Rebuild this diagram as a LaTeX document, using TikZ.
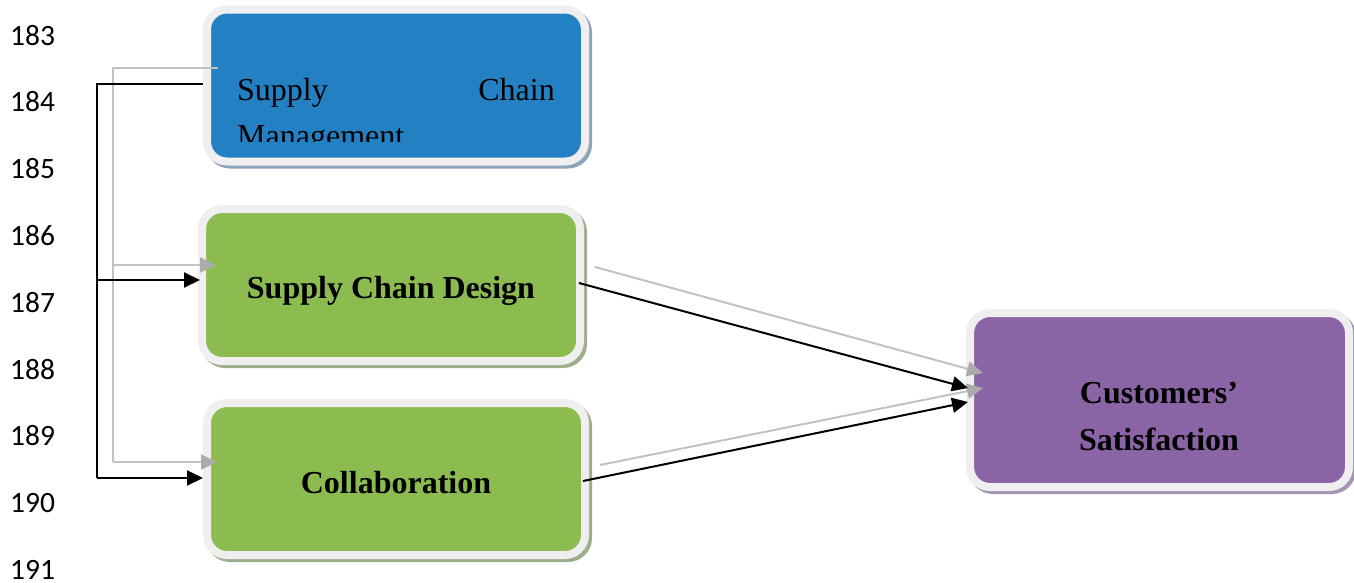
\documentclass[tikz,border=0pt]{standalone}
\usepackage{fontspec}
\setmainfont{Liberation Serif}
\newfontfamily\numfont{Carlito}
\usetikzlibrary{arrows.meta,calc}

\definecolor{cardedge}{HTML}{EFEFEF}
\definecolor{scmblue}{HTML}{2380C2}
\definecolor{scmshade}{HTML}{8DA3BA}
\definecolor{leafgreen}{HTML}{8CBB50}
\definecolor{greenshade}{HTML}{9DAE8B}
\definecolor{plum}{HTML}{8A64A4}
\definecolor{plumshade}{HTML}{A595B3}
\definecolor{ghostline}{HTML}{C2C2C2}
\definecolor{ghosttip}{HTML}{ABABAB}

\tikzset{
  card/.style n args={2}{rounded corners=20pt, draw=cardedge, line width=8pt,
    fill=#1, minimum width=378pt, minimum height=152pt, inner sep=0pt,
    align=center, font=\bfseries\fontsize{32}{46}\selectfont,
    preaction={draw=#2, fill=#2, line width=8pt,
      transform canvas={shift={(3pt,-3pt)}}}},
  linenum/.style={anchor=base west, font=\numfont\fontsize{29.5}{34}\selectfont, inner sep=0pt},
  plain/.style={font=\fontsize{32}{46}\selectfont, inner sep=0pt},
  link/.style={line width=2pt, black},
  linkarrow/.style={link, -{Triangle[length=16pt,width=15pt]}},
  ghost/.style={line width=2pt, ghostline},
  ghostarrow/.style={ghost, -{Triangle[length=16pt,width=15pt,color=ghosttip]}},
}

\begin{document}
\begin{tikzpicture}[x=1pt, y=-1pt]
\useasboundingbox (0,0) rectangle (1354,582);

% line numbers in the margin
\foreach \n [count=\i from 0] in {183,...,191}
  \node[linenum] (ln\n) at (10,45+66.8*\i) {\n};

% boxes
\node[card={scmblue}{scmshade}] (scm) at (396,85.5) {};
\node[card={leafgreen}{greenshade}] (design) at (391,285) {};
\node[card={leafgreen}{greenshade}] (collab) at (396,479) {};
\node[card={plum}{plumshade}, minimum width=379pt, minimum height=174pt] (cs) at (1159.5,400) {};

% box texts
\begin{scope}
  \clip (211,14) rectangle (581,141.5);
  \node[plain, anchor=base west] (scmA) at (237,100) {Supply};
  \node[plain, anchor=base east] (scmB) at (555,100) {Chain};
  \node[plain, anchor=base west] (scmC) at (237,146) {Management};
\end{scope}
\node[plain, font=\bfseries\fontsize{32}{47}\selectfont, anchor=base] (designT) at (391,298) {Supply Chain Design};
\node[plain, font=\bfseries\fontsize{32}{47}\selectfont, anchor=base] (collabT) at (396,493) {Collaboration};
\node[plain, font=\bfseries\fontsize{32}{47}\selectfont, anchor=base, align=center] (csT) at (1159,450)
  {Customers’\\Satisfaction};

% light offset copies of the connectors
\coordinate (gstart) at ($(scm.west)+(15pt,17.5pt)$);
\coordinate (gcorner) at (113,68);
\coordinate (gsplit) at (113,265);
\coordinate (gfoot) at (113,462);
\draw[ghost] (gstart) -- (gcorner) -- (gfoot);
\draw[ghostarrow] (gsplit) -- ($(design.west)+(18pt,20pt)$);
\draw[ghostarrow] (gfoot) -- ($(collab.west)+(14pt,17pt)$);
\draw[ghostarrow] ($(design.east)+(11pt,18pt)$) -- ($(cs.west)+(17pt,27pt)$);
\draw[ghostarrow] ($(collab.east)+(11pt,14pt)$) -- ($(cs.west)+(17pt,12pt)$);

% connectors
\coordinate (bcorner) at (97,84);
\coordinate (bsplit) at (97,280);
\coordinate (bfoot) at (97,478);
\draw[link] (scm.west |- bcorner) -- (bcorner) -- (bfoot);
\draw[linkarrow] (bsplit) -- ($(design.west)+(2pt,5pt)$);
\draw[linkarrow] (bfoot) -- (collab.west |- bfoot);
\draw[linkarrow] ($(design.east)+(-5pt,2pt)$) -- ($(cs.west)+(2pt,12pt)$);
\draw[linkarrow] ($(collab.east)+(-6pt,-2pt)$) -- ($(cs.west)+(2pt,-2pt)$);
\end{tikzpicture}
\end{document}
